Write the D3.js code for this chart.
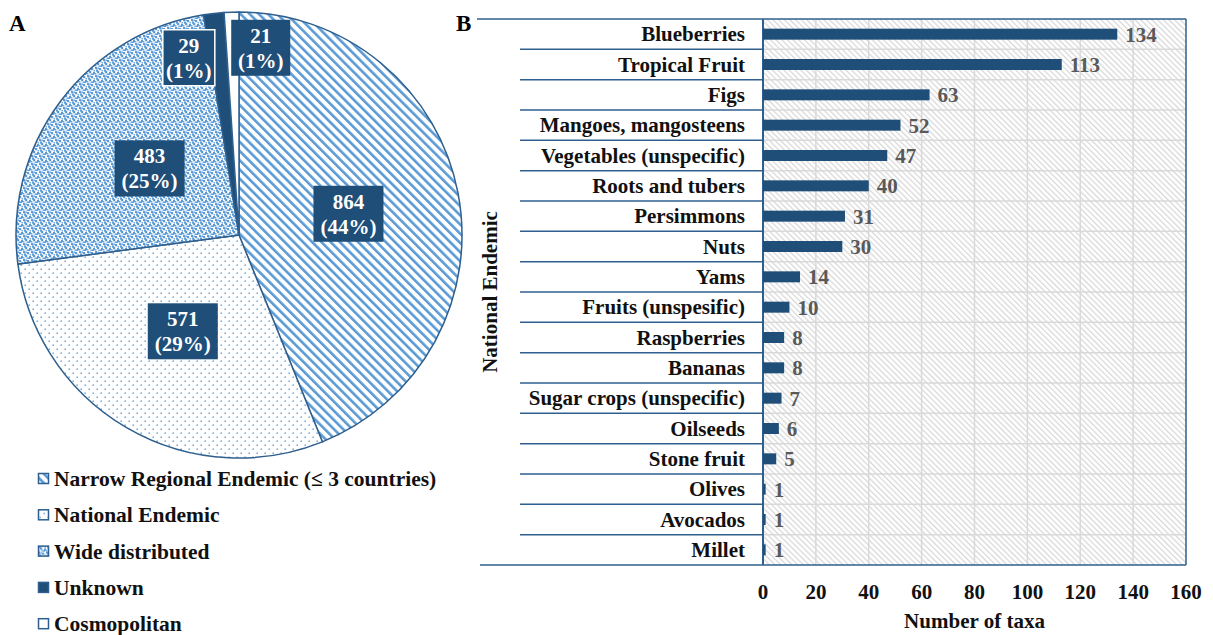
<!DOCTYPE html>
<html>
<head>
<meta charset="utf-8">
<script src="https://d3js.org/d3.v7.min.js"></script>
<style>
  body { margin: 0; background: #fff; }
</style>
</head>
<body>
<div id="chart"></div>
<script>
// pie data (panel A)
var groups = ["Narrow Regional Endemic (\u2264 3 countries)", "National Endemic", "Wide distributed", "Unknown", "Cosmopolitan"];
var groupCounts = [864, 571, 483, 29, 21];
var groupPercents = ["44%", "29%", "25%", "1%", "1%"];

// bar data (panel B)
var crops = ["Blueberries", "Tropical Fruit", "Figs", "Mangoes, mangosteens", "Vegetables (unspecific)",
    "Roots and tubers", "Persimmons", "Nuts", "Yams", "Fruits (unspesific)", "Raspberries", "Bananas",
    "Sugar crops (unspecific)", "Oilseeds", "Stone fruit", "Olives", "Avocados", "Millet"];
var cropTaxa = [134, 113, 63, 52, 47, 40, 31, 30, 14, 10, 8, 8, 7, 6, 5, 1, 1, 1];
var xTicks = [0, 20, 40, 60, 80, 100, 120, 140, 160];

var dark = "#1f4e79";
var edge = "#2e5f8e";
var pat = "#5b9bd5";
var fs = 21;

var w = 1213, h = 635;
var svg = d3.select("#chart").append("svg").attr("width", w).attr("height", h)
    .attr("font-family", "Liberation Serif").attr("font-weight", "bold");
var defs = svg.append("defs");

// patterns
var p1 = defs.append("pattern").attr("id", "stripes").attr("patternUnits", "userSpaceOnUse")
    .attr("width", 6.5).attr("height", 6.5).attr("patternTransform", "rotate(-45)");
p1.append("rect").attr("width", 6.5).attr("height", 6.5).attr("fill", "#fff");
p1.append("rect").attr("width", 2.6).attr("height", 6.5).attr("fill", pat);

var p2 = defs.append("pattern").attr("id", "sparse").attr("patternUnits", "userSpaceOnUse")
    .attr("width", 8).attr("height", 8);
p2.append("rect").attr("width", 8).attr("height", 8).attr("fill", "#fff");
p2.append("rect").attr("x", 1.5).attr("y", 1.5).attr("width", 1.4).attr("height", 1.4).attr("fill", pat);
p2.append("rect").attr("x", 5.5).attr("y", 5.5).attr("width", 1.4).attr("height", 1.4).attr("fill", pat);

var p3 = defs.append("pattern").attr("id", "dense").attr("patternUnits", "userSpaceOnUse")
    .attr("width", 8).attr("height", 8);
p3.append("rect").attr("width", 8).attr("height", 8).attr("fill", "#fff");
[[0, 0], [4, 1], [2, 4], [6, 5], [1, 2.5], [5, 6.5]].forEach(function(d) {
    p3.append("rect").attr("x", d[0]).attr("y", d[1]).attr("width", 2.2).attr("height", 2.2).attr("fill", pat);
});
[[2.5, 0.5], [6.5, 3], [0, 6], [3.5, 6.5]].forEach(function(d) {
    p3.append("rect").attr("x", d[0]).attr("y", d[1]).attr("width", 1.5).attr("height", 1.5).attr("fill", "#6fa6da");
});

var p4 = defs.append("pattern").attr("id", "hatch").attr("patternUnits", "userSpaceOnUse")
    .attr("width", 4).attr("height", 4).attr("patternTransform", "rotate(-45)");
p4.append("rect").attr("width", 4).attr("height", 4).attr("fill", "#fff");
p4.append("rect").attr("width", 1.2).attr("height", 4).attr("fill", "#d6d6d6");

var fills = ["url(#stripes)", "url(#sparse)", "url(#dense)", dark, "#fff"];

// ---------- Panel A: pie ----------
var cx = 239, cy = 235, r = 223;
var g = svg.append("g").attr("transform", "translate(" + cx + "," + cy + ")");
var pie = d3.pie().sort(null).value(function(d) { return d; });
var arcs = pie(groupCounts);
var arc = d3.arc().innerRadius(0).outerRadius(r);

g.selectAll(".slice").data(arcs).enter().append("path")
    .attr("d", arc)
    .attr("fill", function(d, i) { return fills[i]; })
    .attr("stroke", edge)
    .attr("stroke-width", 1.5);

// label boxes: big slices at half radius, the two thin ones pushed outward
var labelRadius = [0.5, 0.5, 0.5, 0.8, 0.84];
var labelShift = [0, 0, 0, -30, 28];
var boxW = [70, 70, 70, 52, 59];
arcs.forEach(function(d, i) {
    var a = (d.startAngle + d.endAngle) / 2;
    var lx = Math.sin(a) * r * labelRadius[i] + labelShift[i];
    var ly = -Math.cos(a) * r * labelRadius[i];
    var lg = g.append("g").attr("transform", "translate(" + lx + "," + ly + ")");
    lg.append("rect").attr("x", -boxW[i] / 2).attr("y", -28).attr("width", boxW[i]).attr("height", 56)
        .attr("fill", dark).attr("stroke", i === 3 ? "#fff" : "none").attr("stroke-width", 1.5);
    lg.append("text").attr("text-anchor", "middle").attr("y", -5).attr("fill", "#fff")
        .attr("font-size", fs).text(groupCounts[i]);
    lg.append("text").attr("text-anchor", "middle").attr("y", 20).attr("fill", "#fff")
        .attr("font-size", fs).text("(" + groupPercents[i] + ")");
});

// legend
var leg = svg.append("g").attr("transform", "translate(38,479)");
groups.forEach(function(name, i) {
    var row = leg.append("g").attr("transform", "translate(0," + (i * 36.3) + ")");
    row.append("rect").attr("x", 0.5).attr("y", -5.5).attr("width", 10).attr("height", 10)
        .attr("fill", fills[i]).attr("stroke", edge).attr("stroke-width", 1.5);
    row.append("text").attr("x", 16).attr("y", 7).attr("font-size", fs + 0.5).attr("fill", "#111").text(name);
});

svg.append("text").attr("x", 9).attr("y", 31).attr("font-size", 23).text("A");

// ---------- Panel B: bars ----------
var yTop = 19, yBottom = 565, x0 = 763, x1 = 1186;
var xScale = d3.scaleLinear().domain([0, 160]).range([x0, x1]);
var yScale = d3.scaleBand().domain(crops).range([yTop, yBottom]);

svg.append("rect").attr("x", x0).attr("y", yTop).attr("width", x1 - x0).attr("height", yBottom - yTop)
    .attr("fill", "url(#hatch)");

// grid
svg.append("g").selectAll("line").data(xTicks.slice(1, -1)).enter().append("line")
    .attr("x1", function(d) { return xScale(d); }).attr("x2", function(d) { return xScale(d); })
    .attr("y1", yTop).attr("y2", yBottom).attr("stroke", "#d9d9d9").attr("stroke-width", 1.5);
svg.append("g").selectAll("line").data(crops.slice(1)).enter().append("line")
    .attr("x1", x0).attr("x2", x1)
    .attr("y1", function(d) { return yScale(d); }).attr("y2", function(d) { return yScale(d); })
    .attr("stroke", "#d9d9d9").attr("stroke-width", 1.5);

// category separators
svg.append("g").selectAll("line").data(crops.slice(1)).enter().append("line")
    .attr("x1", 520).attr("x2", x0)
    .attr("y1", function(d) { return yScale(d); }).attr("y2", function(d) { return yScale(d); })
    .attr("stroke", edge).attr("stroke-width", 1.5);

// frame
svg.append("line").attr("x1", 477).attr("x2", x1).attr("y1", yTop).attr("y2", yTop).attr("stroke", edge).attr("stroke-width", 1.5);
svg.append("line").attr("x1", 480).attr("x2", x1).attr("y1", yBottom).attr("y2", yBottom).attr("stroke", edge).attr("stroke-width", 1.5);
svg.append("line").attr("x1", x0).attr("x2", x0).attr("y1", yTop).attr("y2", yBottom).attr("stroke", edge).attr("stroke-width", 2);
svg.append("line").attr("x1", x1).attr("x2", x1).attr("y1", yTop).attr("y2", yBottom).attr("stroke", edge).attr("stroke-width", 1.5);

// bars
var barH = 11;
svg.append("g").selectAll("rect").data(crops).enter().append("rect")
    .attr("x", x0)
    .attr("y", function(d) { return yScale(d) + yScale.bandwidth() / 2 - barH / 2; })
    .attr("width", function(d, i) { return xScale(cropTaxa[i]) - x0; })
    .attr("height", barH)
    .attr("fill", dark);

svg.append("g").selectAll("text").data(crops).enter().append("text")
    .attr("x", function(d, i) { return xScale(cropTaxa[i]) + 8; })
    .attr("y", function(d) { return yScale(d) + yScale.bandwidth() / 2 + 7.5; })
    .attr("fill", "#595959").attr("font-size", fs)
    .text(function(d, i) { return cropTaxa[i]; });

// category labels
svg.append("g").selectAll("text").data(crops).enter().append("text")
    .attr("x", 745).attr("text-anchor", "end")
    .attr("y", function(d) { return yScale(d) + yScale.bandwidth() / 2 + 7; })
    .attr("font-size", fs).attr("fill", "#111")
    .text(function(d) { return d; });

// x axis ticks
svg.append("g").selectAll("text").data(xTicks).enter().append("text")
    .attr("x", function(d) { return xScale(d); }).attr("y", 599)
    .attr("text-anchor", "middle").attr("font-size", fs).attr("fill", "#111")
    .text(function(d) { return d; });

svg.append("text").attr("x", (x0 + x1) / 2).attr("y", 628).attr("text-anchor", "middle")
    .attr("font-size", fs).attr("fill", "#111").text("Number of taxa");

svg.append("text").attr("transform", "rotate(-90)")
    .attr("x", -(yTop + yBottom) / 2).attr("y", 497).attr("text-anchor", "middle")
    .attr("font-size", fs).attr("fill", "#111").text("National Endemic");

svg.append("text").attr("x", 456).attr("y", 31).attr("font-size", 23).text("B");
</script>
</body>
</html>
